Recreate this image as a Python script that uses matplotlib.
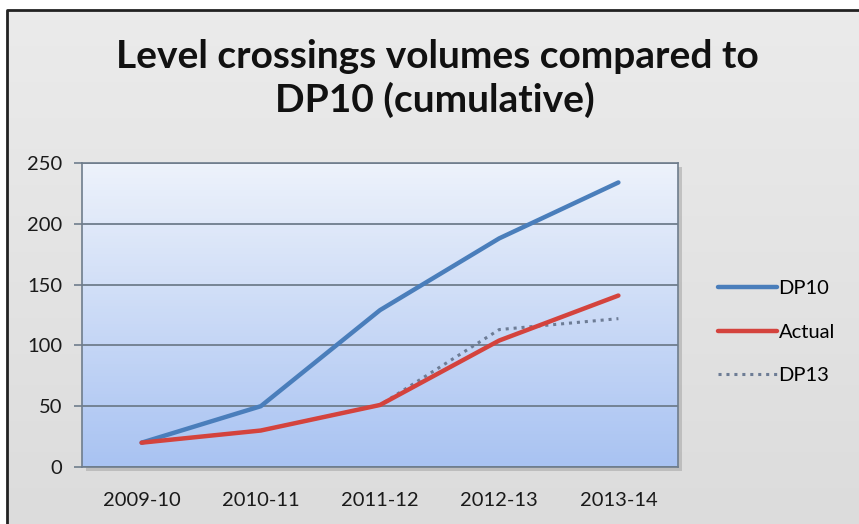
import numpy as np
import matplotlib
matplotlib.use('Agg')
import matplotlib.pyplot as plt
from matplotlib.colors import LinearSegmentedColormap
from matplotlib.patches import Rectangle

# cumulative volumes per year
years = ['2009-10', '2010-11', '2011-12', '2012-13', '2013-14']
dp10 = [20, 50, 129, 188, 234]
actual = [20, 30, 51, 104, 141]
dp13 = [20, 30, 51, 113, 122]
y_ticks = [0, 50, 100, 150, 200, 250]

plt.rcParams['font.family'] = ['Lato', 'DejaVu Sans']

W, H = 859, 524
fig = plt.figure(figsize=(W/100, H/100), dpi=100)
fig.patch.set_facecolor('white')

# chart area frame with soft grey fill
bg = fig.add_axes([0, 0, 1, 1], zorder=-10)
bg.set_xlim(0, W)
bg.set_ylim(H, 0)
bg.axis('off')
grey = LinearSegmentedColormap.from_list('grey', ['#ebebeb', '#dcdcdc'])
bg.imshow(np.linspace(0, 1, 100).reshape(-1, 1), cmap=grey, aspect='auto',
          extent=[7, W, H, 10], zorder=0)
bg.plot([7, 7, W], [H, 10, 10], color='#222222', lw=2, solid_capstyle='butt', zorder=2)

# plot area position in pixels
px0, px1, py0, py1 = 82, 678, 163, 467
# drop shadow
bg.add_patch(Rectangle((px0 + 4, py0 + 4), px1 - px0, py1 - py0,
                       facecolor='#a9a9a9', edgecolor='none', alpha=0.6, zorder=1))

ax = fig.add_axes([px0/W, 1 - py1/H, (px1 - px0)/W, (py1 - py0)/H])
blue_grad = LinearSegmentedColormap.from_list('bl', ['#a9c3f2', '#edf2fb'])
ax.imshow(np.linspace(0, 1, 100).reshape(-1, 1), cmap=blue_grad, aspect='auto',
          extent=[-0.5, 4.5, 0, 250], origin='lower', zorder=0)

x = np.arange(len(years))
ax.plot(x, dp13, color='#6d7c95', lw=2.2, linestyle=(0, (1, 1.6)), zorder=3, label='DP13')
ax.plot(x, dp10, color='#4a7ebb', lw=3.2, zorder=4, label='DP10', solid_capstyle='round')
ax.plot(x, actual, color='#d4433d', lw=3.2, zorder=5, label='Actual', solid_capstyle='round')

ax.set_xlim(-0.5, 4.5)
ax.set_ylim(0, 250)
ax.set_yticks(y_ticks)
ax.set_xticks(x)
ax.set_xticklabels(years)
ax.yaxis.grid(True, color='#6f7d8c', lw=1.3)
ax.set_axisbelow(False)
for gl in ax.get_ygridlines():
    gl.set_zorder(2)
for s in ax.spines.values():
    s.set_color('#6f7d8c')
    s.set_linewidth(1.2)
ax.tick_params(axis='y', length=6, width=1.2, color='#6f7d8c', labelsize=14.5,
               labelcolor='#1a1a1a', pad=8)
ax.tick_params(axis='x', length=0, labelsize=14.5, labelcolor='#1a1a1a', pad=18)

fig.text(437/W, 1 - 68/H, 'Level crossings volumes compared to',
         ha='center', va='baseline', fontsize=28, fontweight='bold', color='#111111')
fig.text(435/W, 1 - 112/H, 'DP10 (cumulative)',
         ha='center', va='baseline', fontsize=28, fontweight='bold', color='#111111')

handles, labels = ax.get_legend_handles_labels()
order = [1, 2, 0]
fig.legend([handles[i] for i in order], [labels[i] for i in order],
           loc='center left', bbox_to_anchor=(700/W, 1 - 332/H), frameon=False,
           fontsize=14.5, handlelength=2.9, handletextpad=0.1, labelspacing=1.3)

fig.savefig('out.png', dpi=100)
